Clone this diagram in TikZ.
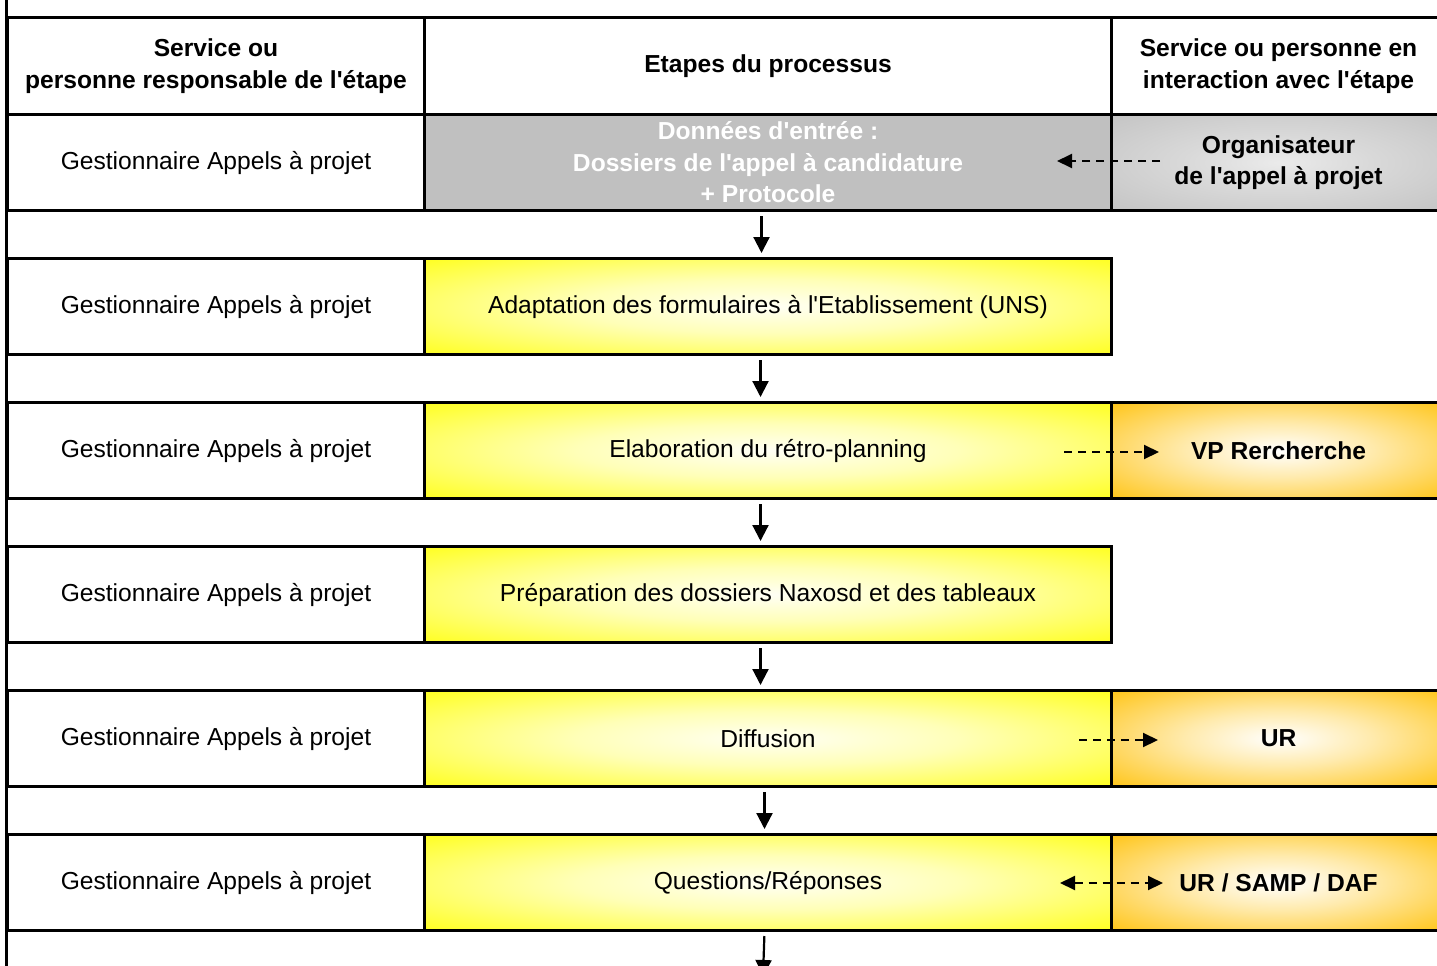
\documentclass[tikz,border=0pt]{standalone}
\usepackage{fontspec}
\setmainfont{Liberation Sans}
\usetikzlibrary{arrows.meta,calc}
\newcommand{\ap}{\textquotesingle}
\definecolor{cellgray}{RGB}{192,192,192}
\definecolor{ora}{RGB}{255,196,20}
\definecolor{yel}{RGB}{255,255,0}
\pgfdeclareradialshading{yglow}{\pgfpoint{0bp}{0bp}}{color(0bp)=(yel!4); color(14bp)=(yel!28); color(40bp)=(yel); color(50bp)=(yel)}
\pgfdeclareradialshading{oglow}{\pgfpoint{0bp}{0bp}}{color(0bp)=(white); color(14bp)=(ora!35); color(36bp)=(ora); color(50bp)=(ora)}
\pgfdeclareradialshading{gglow}{\pgfpoint{0bp}{0bp}}{color(0bp)=(white!92!black); color(14bp)=(white!85!black); color(40bp)=(cellgray); color(50bp)=(cellgray)}
\begin{document}
\begin{tikzpicture}[x=1pt,y=-1pt,
  font=\fontsize{24.6}{31.5}\selectfont,
  cell/.style={draw=black, line width=3pt, inner sep=0pt, align=center, anchor=north west, minimum height=96pt},
  lcell/.style={cell, minimum width=417pt},
  mcell/.style={cell, minimum width=687pt},
  rcell/.style={cell, minimum width=334pt},
  ymid/.style={mcell, shading=yglow},
  orng/.style={rcell, shading=oglow, font=\fontsize{24.6}{31.5}\selectfont\bfseries},
  varrow/.style={line width=2.2pt, -{Triangle[length=16pt,width=16pt]}, shorten <=4pt, shorten >=4pt},
  darrow/.style={line width=2pt, dash pattern=on 8pt off 6pt, -{Triangle[length=15pt,width=14pt]}},
  bdarrow/.style={line width=2pt, dash pattern=on 8pt off 6pt, {Triangle[length=15pt,width=14pt]}-{Triangle[length=15pt,width=14pt]}}
]
\useasboundingbox (0,0) rectangle (1437,966);
\fill[white] (0,0) rectangle (1437,966);
\coordinate (ltop) at (6,0);
\coordinate (lbot) at (6,966);
\draw[line width=3pt] (ltop) -- (lbot);

% header
\node[lcell, minimum height=97pt, font=\fontsize{24.6}{31.5}\selectfont\bfseries] (H1) at (6,16) {Service ou\\personne responsable de l\ap étape};
\node[mcell, minimum height=97pt, font=\fontsize{24.6}{31.5}\selectfont\bfseries] (H2) at (423,16) {Etapes du processus};
\node[rcell, minimum height=97pt, font=\fontsize{24.6}{31.5}\selectfont\bfseries] (H3) at (1110,16) {Service ou personne en\\interaction avec l\ap étape};

% row 1
\node[lcell] (L1) at (6,113) {Gestionnaire Appels à projet};
\node[mcell, fill=cellgray, text=white, font=\fontsize{24.6}{31.5}\selectfont\bfseries] (M1) at (423,113) {Données d\ap entrée :\\Dossiers de l\ap appel à candidature\\+ Protocole};
\node[rcell, shading=gglow, font=\fontsize{24.6}{31.5}\selectfont\bfseries] (R1) at (1110,113) {Organisateur\\de l\ap appel à projet};

% row 2
\node[lcell] (L2) at (6,257) {Gestionnaire Appels à projet};
\node[ymid] (M2) at (423,257) {Adaptation des formulaires à l\ap Etablissement (UNS)};

% row 3
\node[lcell] (L3) at (6,401) {Gestionnaire Appels à projet};
\node[ymid] (M3) at (423,401) {Elaboration du rétro-planning};
\node[orng] (R3) at (1110,401) {VP Rercherche};

% row 4
\node[lcell] (L4) at (6,545) {Gestionnaire Appels à projet};
\node[ymid] (M4) at (423,545) {Préparation des dossiers Naxosd et des tableaux};

% row 5
\node[lcell] (L5) at (6,689) {Gestionnaire Appels à projet};
\node[ymid] (M5) at (423,689) {Diffusion};
\node[orng] (R5) at (1110,689) {UR};

% row 6
\node[lcell] (L6) at (6,833) {Gestionnaire Appels à projet};
\node[ymid] (M6) at (423,833) {Questions/Réponses};
\node[orng] (R6) at (1110,833) {UR / SAMP / DAF};

% vertical arrows
\draw[varrow] ([xshift=-6.5pt]M1.south) -- ([xshift=-6.5pt]M2.north);
\draw[varrow] ([xshift=-7.5pt]M2.south) -- ([xshift=-7.5pt]M3.north);
\draw[varrow] ([xshift=-7.5pt]M3.south) -- ([xshift=-7.5pt]M4.north);
\draw[varrow] ([xshift=-7.5pt]M4.south) -- ([xshift=-7.5pt]M5.north);
\draw[varrow] ([xshift=-3.5pt]M5.south) -- ([xshift=-3.5pt]M6.north);
\coordinate (endarrow) at (763,976);
\draw[varrow, shorten >=0pt] ([xshift=-3.5pt]M6.south) -- (endarrow);

% dashed interaction arrows
\coordinate (d1a) at (1160,161);
\coordinate (d1b) at (1057,161);
\draw[darrow] (d1a) -- (d1b);
\coordinate (d3a) at (1064,452);
\coordinate (d3b) at (1159,452);
\draw[darrow] (d3a) -- (d3b);
\coordinate (d5a) at (1079,740);
\coordinate (d5b) at (1158,740);
\draw[darrow] (d5a) -- (d5b);
\coordinate (d6a) at (1060,883);
\coordinate (d6b) at (1163,883);
\draw[bdarrow] (d6a) -- (d6b);
\end{tikzpicture}
\end{document}
